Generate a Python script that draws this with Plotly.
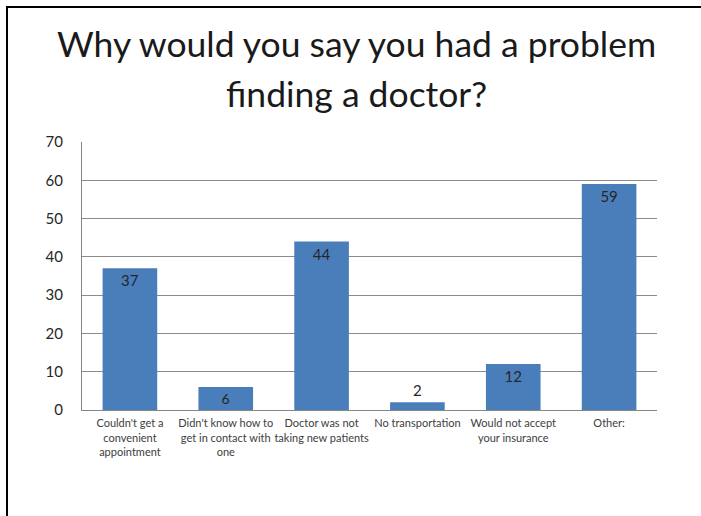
import plotly.graph_objects as go

categories = [
    "Couldn't get a<br>convenient<br>appointment",
    "Didn't know how to<br>get in contact with<br>one",
    "Doctor was not<br>taking new patients",
    "No transportation",
    "Would not accept<br>your insurance",
    "Other:",
]
values = [37, 6, 44, 2, 12, 59]
y_ticks = [0, 10, 20, 30, 40, 50, 60, 70]
title_lines = ["Why would you say you had a problem", "finding a doctor?"]

W, H = 701, 516
L, R, T, B = 82, 44, 142, 106
pw, ph = W - L - R, H - T - B

def px_x(x):
    return (x - L) / pw

def px_y(y):
    return (H - B - y) / ph

fig = go.Figure()
fig.add_trace(go.Bar(
    x=categories, y=values,
    marker=dict(color="#4a7ebb", line=dict(width=0)),
    width=0.57,
    text=[str(v) for v in values],
    textposition="auto",
    insidetextanchor="end",
    textangle=0,
    insidetextfont=dict(family="Lato", size=15, color="#262626"),
    outsidetextfont=dict(family="Lato", size=15, color="#262626"),
    cliponaxis=False,
))

fig.update_layout(
    width=W, height=H,
    margin=dict(l=L, r=R, t=T, b=B, autoexpand=False),
    paper_bgcolor="white", plot_bgcolor="white",
    showlegend=False,
    bargap=0.43,
    font=dict(family="Lato", color="#404040"),
    xaxis=dict(
        showline=True, linecolor="#868686", linewidth=1,
        showgrid=False, ticks="", tickangle=0,
        tickfont=dict(family="Lato", size=11, color="#404040"),
        ticklabelstandoff=3,
    ),
    yaxis=dict(
        range=[0, 70], tickvals=y_ticks, ticktext=[str(t) for t in y_ticks],
        showgrid=True, gridcolor="#8c8c8c", gridwidth=1,
        showline=True, linecolor="#868686", linewidth=1,
        zeroline=False, ticks="",
        tickfont=dict(family="Lato", size=15, color="#262626"),
        ticklabelstandoff=15,
    ),
)

for line, yc in zip(title_lines, [44, 93]):
    fig.add_annotation(
        text=line, xref="paper", yref="paper",
        x=px_x(356), y=px_y(yc), xanchor="center", yanchor="middle",
        showarrow=False,
        font=dict(family="Lato", size=35.5, color="#1a1a1a"),
    )

# slide border (left and top edges)
fig.add_shape(type="line", xref="paper", yref="paper",
              x0=px_x(7), x1=px_x(7), y0=px_y(6), y1=px_y(H + 20),
              line=dict(color="black", width=2))
fig.add_shape(type="line", xref="paper", yref="paper",
              x0=px_x(6), x1=px_x(W + 20), y0=px_y(7), y1=px_y(7),
              line=dict(color="black", width=2))

fig.write_html("out.html", config={"displayModeBar": False},
               post_script="document.body.style.margin='0';")
